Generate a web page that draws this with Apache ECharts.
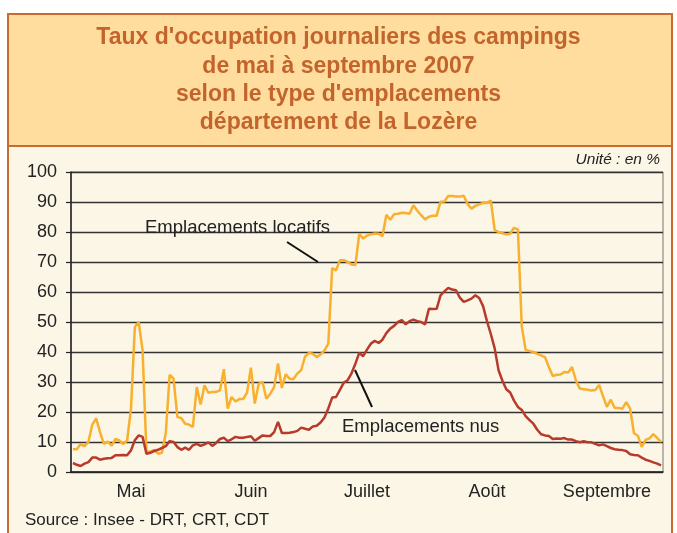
<!DOCTYPE html>
<html>
<head>
<meta charset="utf-8">
<title>Taux d'occupation des campings - Lozère 2007</title>
<script src="https://cdn.jsdelivr.net/npm/echarts@6.0.0/dist/echarts.min.js"></script>
<style>
  html, body { margin: 0; padding: 0; background: #fff; }
  #chart { width: 677px; height: 533px; }
</style>
</head>
<body>
<div id="chart"></div>
<script>
// mois et nombre de jours (1er mai -> 30 septembre)
var months = ['Mai', 'Juin', 'Juillet', 'Août', 'Septembre'];
var monthDays = [31, 30, 31, 31, 30];
// jour du mois ou l'on pose le libelle
var labelDay = [16, 16, 16, 16, 16];

// taux journaliers (%)
var locatifs = [
  7.6, 7.6, 9.3, 8.6, 10, 15.8, 17.9, 13.3, 9.4, 10.1,
  8.8, 11, 10.5, 9.3, 10.5, 21, 48.3, 50, 40.5, 6.7,
  6.8, 7.4, 6.1, 6.4, 13, 32.4, 31.1, 18.3, 18, 16.1,
  15.8, 15, 28.3, 22.5, 28.9, 26.4, 26.7, 26.7, 27.2, 34.3,
  21.1, 25, 23.5, 24.3, 24.3, 26.5, 34.8, 22.8, 29.4, 30,
  24.4, 26.1, 28.3, 36.2, 28, 32.6, 31.1, 31, 32.8, 34,
  38.5, 39.7, 39.4, 38.3, 39.2, 40.5, 42.8, 68, 67.2, 70.6,
  70.6, 70, 69.2, 69, 79.4, 77.8, 78.8, 79.2, 79.5, 79.4,
  78.6, 85.7, 84.1, 85.9, 86.1, 86.4, 86.3, 86.1, 88.9, 87.1,
  85.6, 84.2, 85.1, 85.4, 85.4, 90.1, 90.2, 92, 92, 91.8,
  91.8, 92.1, 89.3, 87.8, 88.7, 89.2, 89.7, 89.7, 90.5, 80.6,
  80, 79.6, 79.2, 79.4, 81.4, 80.9, 48.5, 40.7, 40.3, 40,
  39.4, 38.9, 38.3, 35, 32, 32.4, 32.5, 33.3, 33.2, 35,
  30.5, 27.8, 27.6, 27.4, 27.2, 27.3, 29, 25.3, 21.7, 24.1,
  21.4, 21.3, 21.1, 23.3, 21.1, 12.9, 12.1, 8.4, 10.7, 11.2,
  12.6, 11.4, 10
];
var nus = [
  3, 2.4, 2, 2.8, 3.3, 4.8, 4.8, 4.1, 4.4, 4.6,
  4.7, 5.6, 5.6, 5.7, 5.6, 7.2, 10.6, 12.2, 11.7, 6.1,
  6.4, 7, 7.4, 8, 8.6, 10.3, 10, 8.3, 7.4, 8.1,
  7.4, 8.9, 9.4, 8.7, 9.2, 9.9, 8.7, 9.7, 11, 11.4,
  10.3, 10.9, 11.7, 11.4, 11.4, 11.7, 11.9, 10.4, 11.3, 12.2,
  12, 12, 13.3, 16.7, 13, 13, 13.1, 13.3, 13.7, 14.8,
  14.4, 14.1, 15.2, 15.4, 16.5, 18.2, 21.2, 24.8, 25, 27.4,
  29.8, 30.6, 32.9, 36.1, 39.7, 38.6, 40.8, 42.8, 43.7, 43,
  44.1, 46.3, 47.8, 48.7, 50, 50.6, 49.2, 50.3, 50.8, 50.3,
  50, 49.2, 54.4, 54.3, 54.4, 58.9, 60.2, 61.4, 60.8, 60.6,
  58.1, 56.7, 57.2, 57.8, 58.9, 58, 55.3, 50.3, 46, 41.2,
  33.9, 30.4, 27.6, 26.5, 23.8, 21.7, 20.7, 18.6, 17.3, 16.1,
  14.1, 12.6, 12.2, 12, 11, 11.2, 11.1, 11.3, 10.8, 10.8,
  10.3, 9.9, 10.3, 9.9, 9.9, 9.4, 8.9, 9.2, 8.6, 8,
  7.6, 7.4, 7.3, 7, 5.9, 5.7, 5.6, 4.8, 4.1, 3.7,
  3.2, 2.8, 2.2
];

var orange = '#c96a2e';
var days = [];
var labelAt = {};
for (var m = 0; m < months.length; m++) {
  for (var d = 1; d <= monthDays[m]; d++) {
    if (d === labelDay[m]) labelAt[days.length] = months[m];
    days.push(d + ' ' + months[m]);
  }
}

var chart = echarts.init(document.getElementById('chart'), null, { renderer: 'canvas' });
var font = 'Liberation Sans, Arial, sans-serif';

chart.setOption({
  backgroundColor: '#fff',
  animation: false,
  title: {
    text: "Taux d'occupation journaliers des campings\nde mai à septembre 2007\nselon le type d'emplacements\ndépartement de la Lozère",
    left: 'center',
    top: 19,
    textStyle: { fontFamily: font, fontSize: 23, fontWeight: 'bold', color: '#c2642c', lineHeight: 28.3 }
  },
  graphic: [
    { type: 'rect', z: -10, shape: { x: 8, y: 146, width: 664, height: 400 },
      style: { fill: '#fbf6e5', stroke: orange, lineWidth: 2 } },
    { type: 'rect', z: -9, shape: { x: 8, y: 14, width: 664, height: 132 },
      style: { fill: '#fedd9f', stroke: orange, lineWidth: 2 } },
    { type: 'text', left: 145, top: 218, z: 5,
      style: { text: 'Emplacements locatifs', fontFamily: font, fontSize: 18.5, fill: '#222' } },
    { type: 'line', z: 5, shape: { x1: 287, y1: 242, x2: 318, y2: 262 },
      style: { stroke: '#111', lineWidth: 2 } },
    { type: 'text', left: 342, top: 417, z: 5,
      style: { text: 'Emplacements nus', fontFamily: font, fontSize: 18.5, fill: '#222' } },
    { type: 'line', z: 5, shape: { x1: 355, y1: 370, x2: 372, y2: 407 },
      style: { stroke: '#111', lineWidth: 2 } },
    { type: 'text', right: 17, top: 152, z: 5,
      style: { text: 'Unité : en %', fontFamily: font, fontSize: 15.5, fontStyle: 'italic', fill: '#222' } },
    { type: 'text', left: 25, top: 512, z: 5,
      style: { text: 'Source : Insee - DRT, CRT, CDT', fontFamily: font, fontSize: 17, fill: '#222' } }
  ],
  grid: {
    left: 71, right: 14, top: 172, bottom: 61,
    containLabel: false, outerBoundsMode: 'none',
    show: true, backgroundColor: 'transparent', borderColor: '#777', borderWidth: 1
  },
  xAxis: {
    type: 'category',
    data: days,
    boundaryGap: true,
    axisLine: { lineStyle: { color: '#222', width: 1.5 } },
    axisTick: { interval: 6, length: 5, lineStyle: { color: '#222', width: 1.2 } },
    axisLabel: {
      interval: function (i) { return labelAt[i] !== undefined; },
      formatter: function (v, i) { return labelAt[i] || ''; },
      fontFamily: font, fontSize: 18, color: '#222', margin: 11
    },
    splitLine: { show: false }
  },
  yAxis: {
    type: 'value',
    min: 0, max: 100, interval: 10,
    axisLine: { show: true, lineStyle: { color: '#222', width: 1.5 } },
    axisTick: { show: true, length: 5, lineStyle: { color: '#222', width: 1.2 } },
    axisLabel: { fontFamily: font, fontSize: 18, color: '#222', margin: 14 },
    splitLine: { lineStyle: { color: '#333', width: 1.3 } }
  },
  series: [
    {
      name: 'Emplacements locatifs', type: 'line', data: locatifs,
      showSymbol: false, symbol: 'none', z: 3,
      lineStyle: { color: '#f8b02e', width: 2.5 }
    },
    {
      name: 'Emplacements nus', type: 'line', data: nus,
      showSymbol: false, symbol: 'none', z: 4,
      lineStyle: { color: '#b83a2b', width: 2.5 }
    }
  ]
});
</script>
</body>
</html>
